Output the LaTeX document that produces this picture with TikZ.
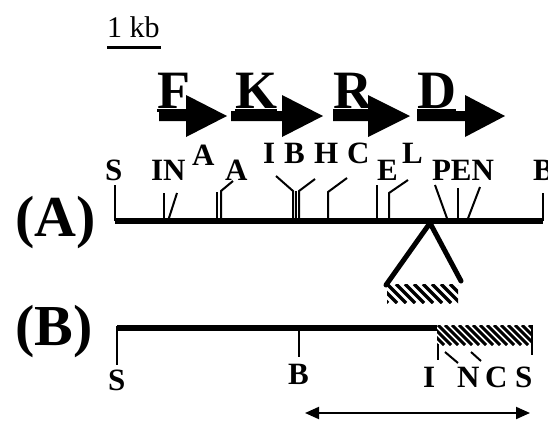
\documentclass[tikz,border=0pt]{standalone}
\usepackage{fontspec}
\setmainfont{Liberation Serif}
\usetikzlibrary{arrows.meta}
\begin{document}
\begin{tikzpicture}[x=1pt,y=-1pt,
  lbl/.style={inner sep=0pt,outer sep=0pt,anchor=base west,font=\fontsize{31}{34}\selectfont\bfseries},
  gene/.style={inner sep=0pt,outer sep=0pt,anchor=base west,font=\fontsize{54}{58}\selectfont\bfseries},
  big/.style={inner sep=0pt,outer sep=0pt,anchor=base west,font=\fontsize{58}{62}\selectfont\bfseries},
  tick/.style={line width=2pt},
  mapline/.style={line width=6pt},
  leg/.style={line width=5pt,line cap=round},
  stripe/.style={line width=3.5pt}]
\useasboundingbox (0,0) rectangle (548,421);

% scale bar
\node[inner sep=0pt,anchor=base west,font=\fontsize{30}{34}\selectfont] (kb) at (107,37) {1 kb};
\draw[line width=3pt] (107,47) coordinate (kbL) -- (161,47) coordinate (kbR);

% genes
\node[gene] (F) at (157,108) {F};
\node[gene] (K) at (235,108) {K};
\node[gene] (R) at (333,108) {R};
\node[gene] (D) at (417,108) {D};
\foreach \g in {F,K,R,D}
  \draw[line width=2.5pt] ([yshift=-2.5pt]\g.base west) -- ([yshift=-2.5pt]\g.base east);
\fill (159,111) -- (186,111) -- (186,95) -- (227,116) -- (186,137) -- (186,121) -- (159,121) -- cycle;
\fill (231,111) -- (282,111) -- (282,95) -- (323,116) -- (282,137) -- (282,121) -- (231,121) -- cycle;
\fill (333,111) -- (368,111) -- (368,95) -- (410,116) -- (368,137) -- (368,121) -- (333,121) -- cycle;
\fill (417,111) -- (465,111) -- (465,95) -- (505,116) -- (465,137) -- (465,121) -- (417,121) -- cycle;

% row labels
\node[big] (labA) at (15,236) {(A)};
\node[big] (labB) at (15,345) {(B)};

% map A labels
\node[lbl] (aS) at (105,180) {S};
\node[lbl] (aIN) at (151,180) {IN};
\node[lbl] (aA1) at (192,165) {A};
\node[lbl] (aA2) at (225,180) {A};
\node[lbl] (aI) at (263,163) {I};
\node[lbl] (aB) at (284,163) {B};
\node[lbl] (aH) at (314,163) {H};
\node[lbl] (aC) at (347,163) {C};
\node[lbl] (aE) at (377,180) {E};
\node[lbl] (aL) at (402,163) {L};
\node[lbl] (aPEN) at (432,180) {PEN};
\node[lbl] (aB2) at (533,180) {B};

% map A line and ticks
\draw[mapline] (115,221) coordinate (A0) -- (543,221) coordinate (A1);
\draw[tick] (115,221) -- (115,185);
\draw[tick] (164,221) -- (164,193);
\draw[tick] (168,221) -- (177,193);
\draw[tick] (217,221) -- (217,192);
\draw[tick] (221,221) -- (221,191) -- (233,181);
\draw[tick] (293,221) -- (293,191) -- (276,176);
\draw[tick] (296,221) -- (296,191);
\draw[tick] (299,221) -- (299,191) -- (315,179);
\draw[tick] (328,221) -- (328,192) -- (347,178);
\draw[tick] (377,221) -- (377,185);
\draw[tick] (389,221) -- (389,193) -- (408,180);
\draw[tick] (448,221) -- (435,185);
\draw[tick] (458,221) -- (458,188);
\draw[tick] (467,221) -- (480,187);
\draw[tick] (543,221) -- (543,193);

% insertion triangle
\coordinate (apex) at (430,223);
\draw[leg] (386,285) -- (apex) -- (461,281);
\begin{scope}
  \clip (387,284) rectangle (458,303);
  \foreach \x in {360,369,...,460} \draw[stripe] (\x,284) -- (\x+19,303);
\end{scope}

% map B
\draw[mapline] (117,328) coordinate (B0) -- (437,328) coordinate (B1);
\begin{scope}
  \clip (437,325) rectangle (532,345);
  \foreach \x in {410,417,...,535} \draw[stripe,line width=3pt] (\x,325) -- (\x+20,345);
\end{scope}
\draw[tick] (117,326) -- (117,365);
\draw[tick] (299,328) -- (299,357);
\draw[tick] (532,325) -- (532,355);
\draw[tick] (438,344) -- (438,360);
\draw[tick] (445,352) -- (458,363);
\draw[tick] (471,352) -- (481,361);

\node[lbl] (bS) at (108,390) {S};
\node[lbl] (bB) at (288,384) {B};
\node[lbl] (bI) at (423,387) {I};
\node[lbl] (bN) at (457,387) {N};
\node[lbl] (bC) at (485,387) {C};
\node[lbl] (bS2) at (515,387) {S};

% double arrow
\coordinate (arL) at (305,413);
\coordinate (arR) at (530,413);
\draw[line width=2pt,{Triangle[length=14pt,width=12pt]}-{Triangle[length=14pt,width=12pt]}] (arL) -- (arR);
\end{tikzpicture}
\end{document}
